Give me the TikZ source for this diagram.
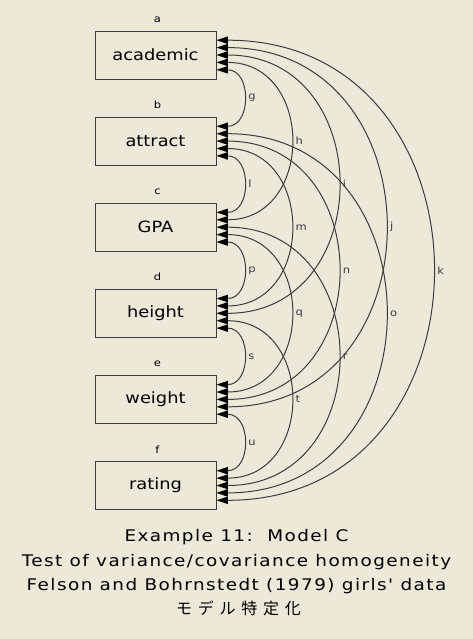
\documentclass[tikz,border=0pt]{standalone}
\usepackage{fontspec}
\setmainfont{DejaVu Sans}[FakeStretch=1.15]
\newfontfamily\capfont{DejaVu Sans}[FakeStretch=1.15,LetterSpace=9]
\newfontfamily\jpfont{Noto Sans CJK JP}[LetterSpace=36]
\usetikzlibrary{positioning, arrows.meta}
\definecolor{panelbg}{RGB}{236,233,216}
\definecolor{linegray}{RGB}{60,60,60}

\begin{document}
\begin{tikzpicture}[
  x=1pt, y=-1pt,
  node distance=37.2pt,
  varbox/.style={draw=linegray, line width=0.9pt, minimum width=121pt, minimum height=48pt,
                 inner sep=0pt, font=\fontsize{15.5}{18}\selectfont},
  errlbl/.style={font=\fontsize{10}{12}\selectfont, inner sep=0pt},
  covlbl/.style={font=\fontsize{10}{12}\selectfont, inner sep=0pt, anchor=west, xshift=5pt},
  cov/.style={linegray, line width=1pt,
              {Triangle[length=11.5pt,width=7.4pt,color=black]}-{Triangle[length=11.5pt,width=7.4pt,color=black]}},
  captext/.style={font=\capfont\fontsize{16}{19}\selectfont, anchor=base}
]
  \fill[panelbg] (0,0) rectangle (473,639);
  \useasboundingbox (0,0) rectangle (473,639);

  % observed variables
  \node[varbox] (academic) at (155.5,55) {academic};
  \node[varbox, below=of academic] (attract) {attract};
  \node[varbox, below=of attract] (GPA) {GPA};
  \node[varbox, below=of GPA] (height) {height};
  \node[varbox, below=of height] (weight) {weight};
  \node[varbox, below=of weight] (rating) {rating};

  % variance labels
  \node[errlbl, above=8pt of academic, anchor=base, xshift=2pt] (va) {a};
  \node[errlbl, above=8pt of attract, anchor=base, xshift=2pt] (vb) {b};
  \node[errlbl, above=8pt of GPA, anchor=base, xshift=2pt] (vc) {c};
  \node[errlbl, above=8pt of height, anchor=base, xshift=2pt] (vd) {d};
  \node[errlbl, above=8pt of weight, anchor=base, xshift=2pt] (ve) {e};
  \node[errlbl, above=8pt of rating, anchor=base, xshift=2pt] (vf) {f};

  % arrow slots on the right side of each box
  \foreach \v in {academic,attract,GPA,height,weight,rating}
    \foreach \k in {0,...,4}
      \coordinate (\v-\k) at ([yshift={14.8pt-7.4pt*\k}]\v.east);

  % covariances
  \foreach \a/\b/\lab in {academic-4/attract-0/g, academic-3/GPA-1/h, academic-2/height-2/i,
                          academic-1/weight-3/j, academic-0/rating-4/k,
                          attract-4/GPA-0/l, attract-3/height-1/m, attract-2/weight-2/n,
                          attract-1/rating-3/o,
                          GPA-4/height-0/p, GPA-3/weight-1/q, GPA-2/rating-2/r,
                          height-4/weight-0/s, height-3/rating-1/t,
                          weight-4/rating-0/u}
    \draw[cov] (\a) to[out=0, in=0, looseness=1.6] node[covlbl] {\lab} (\b);

  % caption
  \node[captext] (cap1) at (236.5,541.7) {Example 11:\ \ Model C};
  \node[captext] (cap2) at (236.5,566.7) {Test of variance/covariance homogeneity};
  \node[captext] (cap3) at (236.5,590.7) {Felson and Bohrnstedt (1979) girls' data};
  \node[captext, font=\jpfont\fontsize{16}{19}\selectfont] (cap4) at (238.5,614.5) {モデル特定化};
\end{tikzpicture}
\end{document}
